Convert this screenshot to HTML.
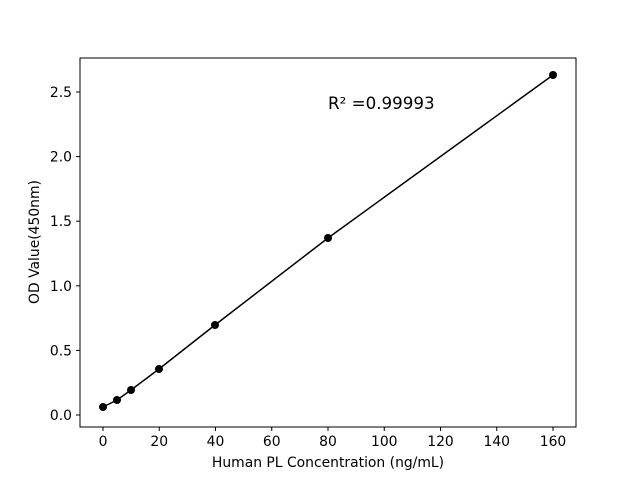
<!DOCTYPE html>
<html><head><style>body{margin:0;background:#fff}svg{display:block}text{font-family:"DejaVu Sans","Liberation Sans",sans-serif;fill:#000}</style></head>
<body>
<svg width="640" height="480" viewBox="0 0 640 480">
<rect x="80" y="58" width="496" height="369" fill="none" stroke="#000" stroke-width="1"/>
<g stroke="#000" stroke-width="1">
<line x1="103" y1="427" x2="103" y2="431"/>
<line x1="159.25" y1="427" x2="159.25" y2="431"/>
<line x1="215.5" y1="427" x2="215.5" y2="431"/>
<line x1="271.75" y1="427" x2="271.75" y2="431"/>
<line x1="328" y1="427" x2="328" y2="431"/>
<line x1="384.25" y1="427" x2="384.25" y2="431"/>
<line x1="440.5" y1="427" x2="440.5" y2="431"/>
<line x1="496.75" y1="427" x2="496.75" y2="431"/>
<line x1="553" y1="427" x2="553" y2="431"/>
<line x1="76" y1="415" x2="80" y2="415"/>
<line x1="76" y1="350.4" x2="80" y2="350.4"/>
<line x1="76" y1="285.8" x2="80" y2="285.8"/>
<line x1="76" y1="221.2" x2="80" y2="221.2"/>
<line x1="76" y1="156.6" x2="80" y2="156.6"/>
<line x1="76" y1="92" x2="80" y2="92"/>
</g>
<g font-size="13.9" text-anchor="middle">
<text x="103" y="446">0</text><text x="159.25" y="446">20</text><text x="215.5" y="446">40</text>
<text x="271.75" y="446">60</text><text x="328" y="446">80</text><text x="384.25" y="446">100</text>
<text x="440.5" y="446">120</text><text x="496.75" y="446">140</text><text x="553" y="446">160</text>
<text x="328" y="467">Human PL Concentration (ng/mL)</text>
</g>
<g font-size="13.9" text-anchor="end">
<text x="72" y="420">0.0</text><text x="72" y="355.4">0.5</text><text x="72" y="290.8">1.0</text>
<text x="72" y="226.2">1.5</text><text x="72" y="161.6">2.0</text><text x="72" y="97">2.5</text>
</g>
<text font-size="13.9" text-anchor="middle" transform="translate(39,242) rotate(-90)">OD Value(450nm)</text>
<text x="328" y="109" font-size="16.7">R² =0.99993</text>
<polyline fill="none" stroke="#000" stroke-width="1.5" points="103,407 117,400 131,390 159,369 215,325 328,238 553,75"/>
<g fill="#000">
<circle cx="103" cy="407" r="4"/><circle cx="117" cy="400" r="4"/><circle cx="131" cy="390" r="4"/>
<circle cx="159" cy="369" r="4"/><circle cx="215" cy="325" r="4"/><circle cx="328" cy="238" r="4"/>
<circle cx="553" cy="75" r="4"/>
</g>
</svg>
</body></html>
